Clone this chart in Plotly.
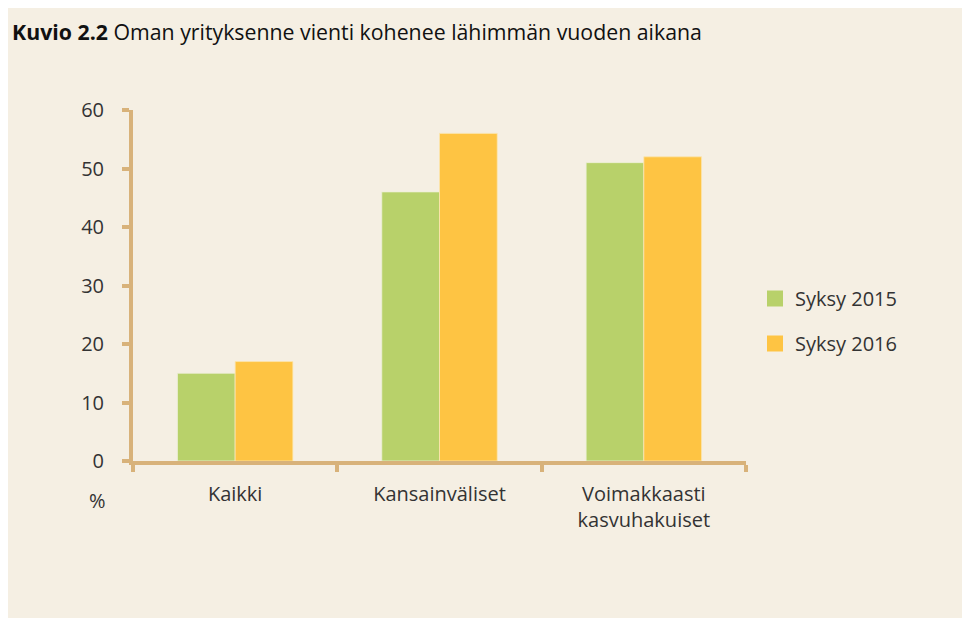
import plotly.graph_objects as go

categories = ["Kaikki", "Kansainväliset", "Voimakkaasti<br>kasvuhakuiset"]
series_names = ["Syksy 2015", "Syksy 2016"]
values_2015 = [15, 46, 51]
values_2016 = [17, 56, 52]
y_ticks = [0, 10, 20, 30, 40, 50, 60]

OFF = 8  # page body margin
W, H = 970 - OFF, 620 - OFF
L, R, T, B = 133 - OFF, 224, 110 - OFF, 159
pw, ph = W - L - R, H - T - B

def px_x(p):
    # page pixel -> paper x
    return (p - OFF - L) / pw

def px_y(p):
    # page pixel -> paper y
    return (H - B - (p - OFF)) / ph

BG = "#F5EFE3"
TAN = "#D8B27A"
GREEN = "#B8D16A"
ORANGE = "#FEC443"
TXT = "#333333"
FONT = "Open Sans"
FS = 20

fig = go.Figure()
fig.add_trace(go.Bar(x=categories, y=values_2015, name=series_names[0],
                     marker=dict(color=GREEN, line=dict(width=0.8, color="#EEF0D8")),
                     legendgroup="a", showlegend=False))
fig.add_trace(go.Bar(x=categories, y=values_2016, name=series_names[1],
                     marker=dict(color=ORANGE, line=dict(width=0.8, color="#FBE6B0")),
                     legendgroup="b", showlegend=False))
# legend entries with larger square swatches
for name, col, grp in [(series_names[0], GREEN, "a"), (series_names[1], ORANGE, "b")]:
    fig.add_trace(go.Scatter(x=[None], y=[None], mode="markers", name=name,
                             marker=dict(symbol="square", size=16, color=col),
                             legendgroup=grp, showlegend=True))

fig.update_layout(
    width=W, height=H,
    margin=dict(l=L, r=R, t=T, b=B),
    paper_bgcolor=BG,
    plot_bgcolor="rgba(0,0,0,0)",
    barmode="group",
    bargap=0.435,
    bargroupgap=0,
    font=dict(family=FONT, size=FS, color=TXT),
    title=dict(
        text="<b>Kuvio 2.2</b> Oman yrityksenne vienti kohenee lähimmän vuoden aikana",
        xref="container", yref="container",
        x=(12 - OFF) / W, xanchor="left",
        y=1 - (33 - OFF) / H, yanchor="middle",
        font=dict(family=FONT, size=21.3, color="#111111"),
    ),
    legend=dict(
        x=px_x(755), xanchor="left",
        y=px_y(279), yanchor="top",
        bgcolor="rgba(0,0,0,0)",
        font=dict(family=FONT, size=FS, color=TXT),
        tracegroupgap=16,
    ),
    showlegend=True,
    xaxis=dict(
        range=[-0.5, 2.5],
        showline=True, linecolor=TAN, linewidth=4,
        ticks="outside", tickson="boundaries", ticklen=7, tickwidth=4, tickcolor=TAN,
        showgrid=False, zeroline=False,
        tickfont=dict(family=FONT, size=FS, color=TXT),
        ticklabelstandoff=12,
        fixedrange=True,
    ),
    yaxis=dict(
        range=[0, 60],
        tickvals=y_ticks,
        showline=True, linecolor=TAN, linewidth=4,
        ticks="outside", ticklen=7, tickwidth=4, tickcolor=TAN,
        showgrid=False, zeroline=False,
        tickfont=dict(family=FONT, size=FS, color=TXT),
        ticklabelstandoff=14,
        fixedrange=True,
    ),
    shapes=[dict(
        type="rect", xref="paper", yref="paper",
        x0=px_x(0), x1=px_x(980), y0=px_y(630), y1=px_y(618),
        fillcolor="white", line=dict(width=0), layer="below",
    )],
    annotations=[dict(
        text="%", xref="paper", yref="paper",
        x=px_x(97), y=px_y(500), xanchor="center", yanchor="middle",
        showarrow=False, font=dict(family=FONT, size=FS, color=TXT),
    )],
)

fig.write_html("out.html")
